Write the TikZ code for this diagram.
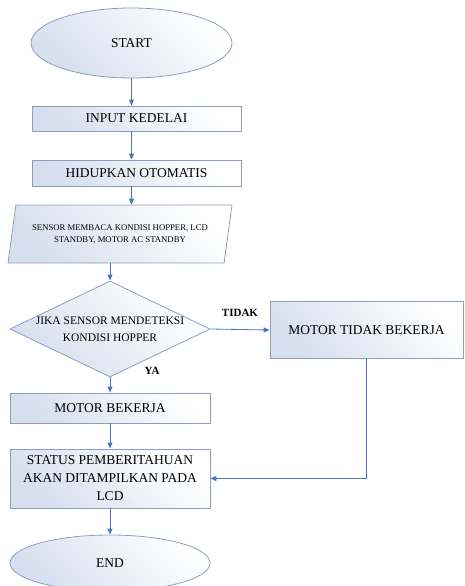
\documentclass[tikz,border=0pt]{standalone}
\usepackage{fontspec}
\setmainfont{Liberation Serif}
\usetikzlibrary{shapes.geometric,arrows.meta}
\definecolor{edge}{RGB}{140,158,192}
\definecolor{flowblue}{RGB}{75,117,196}
\definecolor{boxfill}{RGB}{214,223,238}

\begin{document}
\begin{tikzpicture}[x=1pt,y=-1pt,
  every node/.style={font=\fontsize{13.5}{18}\selectfont, align=center, inner sep=0pt},
  box/.style={draw=edge, line width=0.8pt, top color=white, bottom color=boxfill, shading angle=-45},
  flow/.style={draw=flowblue, line width=0.8pt, -{Triangle[length=6pt,width=5pt]}},
  lbl/.style={font=\fontsize{11}{13}\selectfont\bfseries}]
  \clip (0,0) rectangle (465,586);
  \node[box, ellipse, minimum width=201pt, minimum height=70pt] (start) at (131.5,43) {START};
  \node[box, minimum width=209pt, minimum height=25pt] (input) at (136.5,118.5) {INPUT KEDELAI};
  \node[box, minimum width=209pt, minimum height=26pt] (hidup) at (136.5,173) {HIDUPKAN OTOMATIS};
  \node[box, trapezium, trapezium stretches body, trapezium left angle=67.5, trapezium right angle=112.5,
        minimum width=224pt, minimum height=58pt, font=\fontsize{8.7}{12}\selectfont] (sensor) at (120,234)
        {SENSOR MEMBACA KONDISI HOPPER, LCD\\STANDBY, MOTOR AC STANDBY};
  \node[box, diamond, aspect=2.08, minimum width=200pt, minimum height=96pt, font=\fontsize{11.5}{17}\selectfont] (jika) at (110,329)
        {JIKA SENSOR MENDETEKSI\\KONDISI HOPPER};
  \node[box, minimum width=193pt, minimum height=57pt] (tidak) at (366.5,330) {MOTOR TIDAK BEKERJA};
  \node[box, minimum width=200pt, minimum height=30pt] (motor) at (110,408) {MOTOR BEKERJA};
  \node[box, minimum width=200pt, minimum height=59pt] (status) at (110,478.5)
        {STATUS PEMBERITAHUAN\\AKAN DITAMPILKAN PADA\\LCD};
  \node[box, ellipse, minimum width=200pt, minimum height=56pt] (end) at (110,563) {END};
  \node[lbl] (lbltidak) at (240,313) {TIDAK};
  \node[lbl] (lblya) at (152,371) {YA};
  % arrows
  \draw[flow] (start.south) -- (start.south |- input.north);
  \draw[flow] (start.south |- input.south) -- (start.south |- hidup.north);
  \draw[flow] (start.south |- hidup.south) -- (start.south |- sensor.north);
  \draw[flow] (jika.north |- sensor.south) -- (jika.north);
  \draw[flow] (jika.east) -- (tidak.west);
  \draw[flow] (jika.south) -- (motor.north);
  \draw[flow] (motor.south) -- (status.north);
  \draw[flow] (tidak.south) |- (status.east);
  \draw[flow] (status.south) -- (end.north);
\end{tikzpicture}
\end{document}
